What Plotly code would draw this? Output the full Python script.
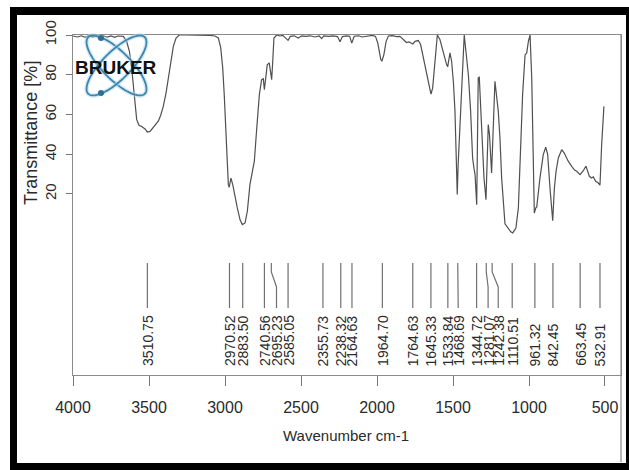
import numpy as np
import plotly.graph_objects as go

# ---------------- data ----------------
wavenumber = [4000, 3970, 3945, 3920, 3895, 3870, 3850, 3825, 3800, 3775, 3750, 3725, 3705, 3685,
              3669, 3647, 3629, 3614, 3603, 3592, 3581, 3566, 3548, 3526, 3511, 3493, 3476, 3454,
              3439, 3423, 3406, 3388, 3373, 3357, 3340, 3322, 3301, 3250, 3200, 3150, 3100, 3066,
              3044, 3028, 3015, 3005, 2995, 2987, 2978, 2972, 2966, 2961, 2949, 2934, 2919, 2901,
              2886, 2868, 2853, 2836, 2818, 2807, 2791, 2774, 2759, 2748, 2741, 2732, 2722, 2709,
              2699, 2693, 2686, 2678, 2660, 2640, 2620, 2600, 2585, 2570, 2545, 2518, 2495, 2470,
              2440, 2410, 2380, 2364, 2350, 2320, 2290, 2260, 2243, 2228, 2200, 2180, 2166, 2150,
              2120, 2100, 2060, 2030, 2010, 1995, 1985, 1975, 1968, 1955, 1940, 1925, 1900, 1870,
              1849, 1827, 1806, 1790, 1772, 1764, 1750, 1728, 1713, 1695, 1673, 1656, 1645, 1634,
              1618, 1603, 1586, 1568, 1553, 1542, 1535, 1528, 1520, 1509, 1497, 1487, 1478, 1472,
              1466, 1460, 1454, 1436, 1426, 1415, 1399, 1384, 1371, 1362, 1355, 1344, 1334, 1327,
              1311, 1296, 1283, 1268, 1260, 1246, 1224, 1202, 1191, 1180, 1158, 1136, 1120, 1107,
              1086, 1070, 1059, 1042, 1026, 1015, 1004, 993, 982, 972, 965, 955, 949, 928,
              906, 890, 877, 862, 844, 833, 822, 807, 785, 768, 742, 719, 700, 686,
              664, 643, 625, 603, 588, 577, 561, 544, 533, 522, 507]
transmittance = [99.5, 99.0, 99.6, 98.8, 99.7, 99.0, 99.5, 98.7, 99.6, 98.9, 99.5, 98.8, 99.5, 99.2,
                 99.3, 96.8, 91.8, 83.4, 75.0, 64.9, 57.4, 54.6, 54.0, 52.7, 51.2, 51.5, 53.2, 54.9,
                 56.6, 59.6, 64.1, 70.8, 78.4, 86.8, 94.3, 98.5, 100, 100, 100, 100, 99.8, 99.5,
                 98.5, 93.5, 83.4, 70.0, 53.2, 36.5, 24.7, 23.4, 26.0, 28.0, 24.7, 18.0, 13.0, 7.0,
                 4.6, 5.4, 11.3, 24.7, 33.0, 36.5, 53.2, 70.0, 77.5, 78.0, 72.5, 78.4, 85.0, 86.0,
                 81.7, 77.5, 86.7, 98.5, 100, 99.5, 99.8, 98.5, 97.3, 99.3, 99.6, 98.5, 99.6, 99.3,
                 99.6, 99.0, 99.5, 98.2, 99.5, 99.3, 99.6, 99.2, 96.6, 99.2, 99.6, 99.4, 96.0, 99.4,
                 99.6, 99.0, 99.5, 99.8, 99.3, 96.0, 91.8, 87.6, 86.8, 90.0, 96.8, 99.5, 99.7, 99.2,
                 99.3, 97.7, 96.2, 96.5, 96.0, 95.5, 96.8, 97.2, 95.2, 88.4, 80.0, 73.3, 70.3, 73.3,
                 86.8, 100, 97.7, 92.6, 87.6, 85.1, 84.0, 88.0, 91.0, 86.8, 76.0, 61.6, 38.0, 19.7,
                 35.0, 45.0, 53.2, 86.8, 100, 91.8, 80.0, 61.6, 38.1, 33.0, 29.7, 14.6, 78.4, 78.7,
                 53.2, 28.0, 17.1, 54.9, 50.0, 30.6, 76.7, 61.6, 48.0, 28.0, 5.0, 2.9, 1.0, 0.4,
                 2.9, 13.0, 36.5, 70.0, 90.0, 91.0, 96.8, 100, 78.4, 36.5, 10.4, 13.0, 13.5, 28.0,
                 39.8, 43.5, 39.8, 23.0, 6.6, 23.0, 31.4, 38.1, 42.3, 40.6, 36.5, 33.9, 32.0, 31.4,
                 29.7, 31.7, 34.0, 28.9, 28.0, 28.6, 26.4, 25.5, 24.4, 44.8, 64.1]

peak_labels = ["3510.75", "2970.52", "2883.50", "2740.56", "2695.23", "2585.05", "2355.73",
               "2238.32", "2164.63", "1964.70", "1764.63", "1645.33", "1533.84", "1468.69",
               "1344.72", "1281.07", "1242.38", "1110.51", "961.32", "842.45", "663.45", "532.91"]

x_ticks = [4000, 3500, 3000, 2500, 2000, 1500, 1000, 500]
y_ticks = [20, 40, 60, 80, 100]

x_title = "Wavenumber cm-1"
y_title = "Transmittance [%]"

# label de-cluttering offsets (layout, in cm-1)
label_shift = {"2695.23": -34, "1468.69": -3, "1281.07": -12, "1242.38": -40}

# ---------------- layout constants ----------------
W, H = 629, 470
L, R, T, B = 73, 621, 35, 375
X_RANGE = [4000, 394.7]
Y_RANGE = [-71.1, 100]
LINE_TOP, BEND_A, BEND_B, LINE_BOT, LABEL_Y = -14.7, -19.2, -26.8, -37.4, -67.6
FONT = "Liberation Sans, Arial, sans-serif"
TXT = "#2a2a2a"


def px(x):
    return (x - L) / (R - L)


def py(y):
    return (B - y) / (B - T)


fig = go.Figure()

fig.add_trace(go.Scatter(x=wavenumber, y=transmittance, mode="lines",
                         line=dict(color="#505050", width=1.2), hoverinfo="skip",
                         showlegend=False))

# peak marker lines
lx, ly = [], []
for lab in peak_labels:
    w = float(lab)
    wl = w + label_shift.get(lab, 0)
    lx += [w, w, wl, wl, None]
    ly += [LINE_TOP, BEND_A, BEND_B, LINE_BOT, None]
fig.add_trace(go.Scatter(x=lx, y=ly, mode="lines", line=dict(color="#707070", width=1.2),
                         hoverinfo="skip", showlegend=False))

annotations = []
for lab in peak_labels:
    wl = float(lab) + label_shift.get(lab, 0)
    annotations.append(dict(x=wl, y=LABEL_Y, xref="x", yref="y", text=lab, textangle=-90,
                            showarrow=False, xanchor="center", yanchor="bottom",
                            font=dict(family=FONT, size=14, color=TXT)))

# axis titles
annotations.append(dict(x=px(346), y=py(435), xref="paper", yref="paper", text=x_title,
                        showarrow=False, xanchor="center", yanchor="middle",
                        font=dict(family=FONT, size=15, color=TXT)))
annotations.append(dict(x=px(31), y=py(133), xref="paper", yref="paper", text=y_title,
                        textangle=-90, showarrow=False, xanchor="center", yanchor="middle",
                        font=dict(family=FONT, size=18, color=TXT)))

shapes = []
# outer black frame
for (x0, y0, x1, y1) in [(10, 7, 629, 15), (10, 7, 17, 470), (10, 463, 629, 470), (626, 7, 629, 470)]:
    shapes.append(dict(type="rect", xref="paper", yref="paper", x0=px(x0), x1=px(x1),
                       y0=py(y1), y1=py(y0), fillcolor="black", line=dict(width=0), layer="above"))
# right grey frame continuation
shapes.append(dict(type="line", xref="paper", yref="paper", x0=1, x1=1, y0=py(462), y1=1,
                   line=dict(color="#8a8a8a", width=1.2)))

# Bruker logo (atom)
cx, cy, a, b = 116.5, 65.5, 40, 14
t = np.linspace(0, 2 * np.pi, 80)
for ang in (45, -45):
    th = np.deg2rad(ang)
    xs = cx + a * np.cos(t) * np.cos(th) - b * np.sin(t) * np.sin(th)
    ys = cy + a * np.cos(t) * np.sin(th) + b * np.sin(t) * np.cos(th)
    path = "M " + " L ".join(f"{px(xx):.5f},{py(yy):.5f}" for xx, yy in zip(xs, ys)) + " Z"
    shapes.append(dict(type="path", xref="paper", yref="paper", path=path,
                       line=dict(color="rgba(170,220,242,0.55)", width=4.5), layer="above"))
    shapes.append(dict(type="path", xref="paper", yref="paper", path=path,
                       line=dict(color="#4583a8", width=1.8), layer="above"))
for (dx, dy) in [(101, 38), (101, 93)]:
    shapes.append(dict(type="circle", xref="paper", yref="paper", x0=px(dx - 3), x1=px(dx + 3),
                       y0=py(dy + 3), y1=py(dy - 3), fillcolor="#2f6f95",
                       line=dict(width=0), layer="above"))

annotations.append(dict(x=px(116), y=py(67), xref="paper", yref="paper", text="<b>BRUKER</b>",
                        showarrow=False, xanchor="center", yanchor="middle",
                        font=dict(family=FONT, size=19, color="#111111")))

fig.update_layout(
    width=W, height=H,
    margin=dict(l=L, r=W - R, t=T, b=H - B, pad=0),
    paper_bgcolor="white", plot_bgcolor="white",
    showlegend=False,
    shapes=shapes, annotations=annotations,
    font=dict(family=FONT, color=TXT),
    xaxis=dict(range=X_RANGE, tickvals=x_ticks, ticktext=[str(v) for v in x_ticks],
               ticks="outside", ticklen=10, tickcolor="#777777", tickwidth=1.2,
               showline=True, linecolor="#8a8a8a", linewidth=1.2, mirror=True,
               showgrid=False, zeroline=False, ticklabelstandoff=8,
               tickfont=dict(size=16, color=TXT)),
    yaxis=dict(range=Y_RANGE, tickvals=y_ticks, ticktext=[str(v) for v in y_ticks],
               ticks="outside", ticklen=6, tickcolor="#777777", tickwidth=1.2, tickangle=-90,
               showline=True, linecolor="#8a8a8a", linewidth=1.2, mirror=True,
               showgrid=False, zeroline=False, ticklabelstandoff=4,
               tickfont=dict(size=15, color=TXT)),
)

fig.write_html("out.html")
